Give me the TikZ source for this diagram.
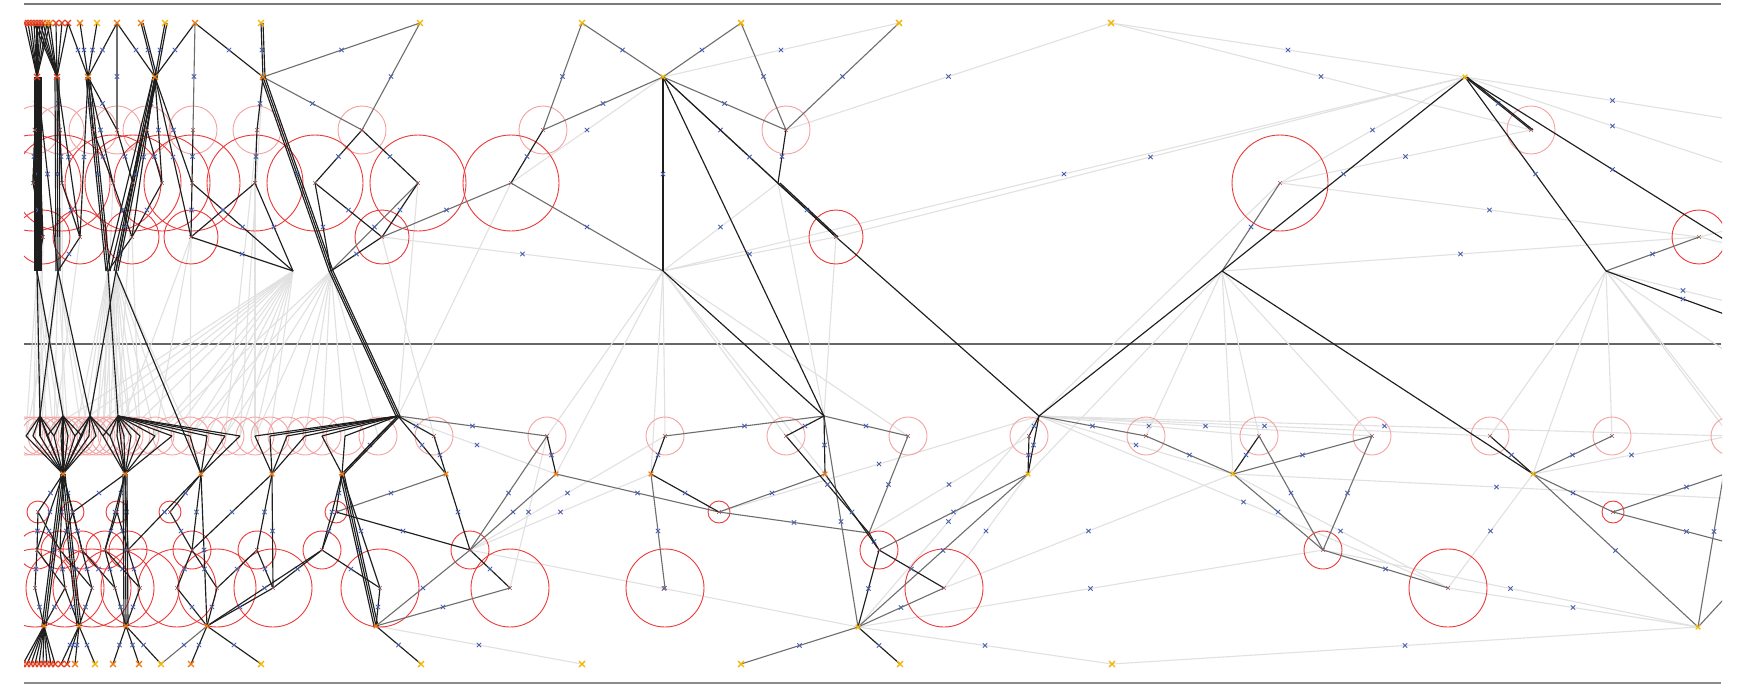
\documentclass[tikz,border=0pt]{standalone}
\usetikzlibrary{shapes.misc}
\definecolor{frm}{HTML}{7A7A7A}
\definecolor{dk}{HTML}{1E1E1E}
\definecolor{md}{HTML}{6E6E6E}
\definecolor{lt}{HTML}{E1E1E1}
\definecolor{pk}{HTML}{F4A2A2}
\definecolor{redc}{HTML}{EC3A3A}
\definecolor{yel}{HTML}{F5B400}
\definecolor{org}{HTML}{EE7A12}
\definecolor{rdn}{HTML}{E2401E}
\definecolor{mkb}{HTML}{4A62AE}
\definecolor{ctr}{HTML}{A05858}
\begin{document}
\begin{tikzpicture}[x=1pt,y=-1pt,
  blk/.style={draw=dk,line width=1.15pt},
  med/.style={draw=md,line width=1.1pt},
  lgt/.style={draw=lt,line width=1.1pt},
  pkc/.style={draw=pk,line width=0.9pt},
  rdc/.style={draw=redc,line width=0.9pt},
  mk/.style={draw=mkb,cross out,minimum size=3.6pt,inner sep=0pt,line width=0.8pt},
  nY/.style={draw=yel,cross out,minimum size=4.5pt,inner sep=0pt,line width=1.4pt},
  nO/.style={draw=org,cross out,minimum size=4.5pt,inner sep=0pt,line width=1.4pt},
  nR/.style={draw=rdn,cross out,minimum size=4.5pt,inner sep=0pt,line width=1.4pt},
  nSy/.style={draw=yel,cross out,minimum size=3.5pt,inner sep=0pt,line width=1.1pt},
  nSo/.style={draw=org,cross out,minimum size=3.5pt,inner sep=0pt,line width=1.1pt},
  nC/.style={draw=ctr,cross out,minimum size=3pt,inner sep=0pt,line width=0.6pt}]
\useasboundingbox (0,0) rectangle (1760,685);
\fill[white] (0,0) rectangle (1760,685);
% ---------- coordinates
\foreach \n/\x/\y in {
tc1/25/23, tc2/28/23, tc3/31/23, tc4/34/23, tc5/37/23, tc6/40/23, tc7/43/23, tc8/47/23, tc9/50/23, tc10/56/23, tc11/62/23, tc12/68/23,
tt1/80/23, tt2/97/23, tt3/117/23, tt4/141/23, tt5/165/23, tt6/195/23,
t1/261/23, t2/420/23, t3/582/23, t4/741/23, t5/899/23, t6/1111/23,
a01/37/77, a02/57/77, a03/88/77, a04/155/77, a1/263/77, a2/663/77, a3/1465/77,
pa/35/130, pb/60/130, pc/93/130, pd/117/130, pe/147/130, pf/193/130, p1/257/130, p2/362/130, p3/543/130, p4/786/130, p5/1531/130,
qa/33/183, qb/62/183, qc/113/183, qd/133/183, qe/162/183, qf/192/183, q1/255/183, q2/315/183, q3/418/183, q4/511/183, q5/1280/183, q6/778/183,
ra/43/237, rb/80/237, rc/132/237, r1/191/237, r2/382/237, r3/836/237, r4/1699/237,
v1/37/271, v2/58/271, v3/108/271, v4/116/271, u1/293/271, u2/331/271, u3/663/271, u4/1222/271, u5/1606/271,
e1/1760/262, e2/1760/124, e3/1760/175, e4/1760/327, e5/1760/310, e6/1760/222, e7/1760/252, e8/1760/468, e9/1760/374,
hz1/40/416, hz2/63/416, hz3/90/416, hz4/118/416, h1/398/416, h2/824/416, h3/1039/416,
c1/434/436, c2/547/436, c3/665/436, c4/786/436, c5/908/436, c6/1029/436, c7/1146/436, c8/1259/436, c9/1372/436, c10/1490/436, c11/1612/436, c12/1730/436,
zo1/63/474, zo2/125/474, zo3/201/474, zo4/272/474, zo5/342/474, o1/446/474, o2/556/474, o3/651/474, o4/825/474, o5/1028/474, o6/1233/474, o7/1533/474,
zs1/38/512, zs2/73/512, zs3/117/512, zs4/170/512, zs5/336/512, s1/719/512, s2/1613/512,
zm1/37/550, zm2/60/550, zm3/82/550, zm4/105/550, zm5/128/550, zm6/192/550, zm7/257/550, zm8/322/550, m1/470/550, m2/879/550, m3/1323/550, j1/869/533,
zb1/35/588, zb2/65/588, zb3/92/588, zb4/115/588, zb5/140/588, zb6/177/588, zb7/217/588, zb8/273/588, zb9/380/588, b1/510/588, b2/665/588, b3/944/588, b4/1448/588,
zn1/44/626, zn2/79/626, zn3/126/626, zn4/207/626, zn5/376/626, n1/858/627, n2/1698/627,
zy1/23/664, zy2/27/664, zy3/31/664, zy4/35/664, zy5/39/664, zy6/43/664, zy7/47/664, zy8/51/664, zy9/55/664, zy10/61/664, zy11/67/664, zy12/75/664, zy13/95/664, zy14/113/664, zy15/139/664, zy16/161/664, zy17/191/664, zy18/261/664,
y1/421/664, y2/582/664, y3/741/664, y4/900/664, y5/1112/664,
f1/1760/462, f2/1760/551, f3/1760/560, f4/1760/500}
{\coordinate (\n) at (\x,\y);}
\foreach \i/\x in {1/26,2/33,3/40,4/47,5/54,6/61,7/68,8/75,9/82,10/89,11/96,12/103,13/110,14/117,15/124,16/131,17/140,18/155,19/172,20/190,21/207,22/225,23/240,24/255,25/270,26/287,27/305,28/322,29/345,30/378}
{\coordinate (zc\i) at (\x,436);}
% ---------- frame lines
\draw[frm,line width=1.5pt] (24,4) -- (1721,4);
\draw[black!60,line width=1.3pt] (24,344) -- (1721,344);
\draw[black!45,line width=2pt] (24,683) -- (1721,683);
\begin{scope}
\clip (24,0) rectangle (1722,685);
% ---------- light edges (with mid marks)
\foreach \a/\b in {t5/a2, q4/a2, q6/u3, r3/u3, r3/a3, u3/a3, p4/t6, t6/a3, t6/p5, a3/e2, a3/e3, q5/a3, q5/p5, q5/r4, u4/r4, u5/e5, r4/e6, r4/e7, r2/u3,
 h1/o2, m1/o3, m1/c3, m1/n1, b1/c2, zn5/y2, h3/c8, h3/c9, h3/c10, h3/c12, h3/o6, n1/y5, y5/n2, n1/m3, b4/n2, m3/n2, o5/b3, o6/b3, o6/b4, b4/o7, o7/c12, c6/j1, o6/f4, h3/n1, h3/s1, h3/b4}
{\draw[lgt] (\a) -- node[mk]{} (\b);}
% light edges crossing the middle band (no marks)
\foreach \a/\b in {q6/h2, r3/h2, q4/h1, q3/h1, r2/c1, u3/c2, u3/o2, u3/o3, u3/c3, u3/c4, u3/o4, u3/c5,
 q5/h3, u4/o5, u4/c7, u4/o6, u4/c8, u4/c9, u5/c10, u5/o7, u5/c11, u5/c12, u5/e8, u5/e9,
 a1/zc22, a1/zc23, r1/zc18, rc/zc17, ra/hz1, qd/hz4, qb/hz2, r1/zc20, q1/zc24, rb/zc5, qc/zc12, ra/zc2, r1/zc14}
{\draw[lgt] (\a) -- (\b);}
\foreach \i in {1,2,3,4,5,6,7} \draw[lgt] (v1) -- (zc\i);
\foreach \i in {1,3,5,7,9,10} \draw[lgt] (v2) -- (zc\i);
\foreach \i in {8,9,10,11,12,13,14,15,16} \draw[lgt] (v3) -- (zc\i);
\foreach \i in {11,12,13,14,15,16,17,18,19,20} \draw[lgt] (v4) -- (zc\i);
\foreach \i in {3,6,9,12,15,18,19,20,21,22,23,24,25} \draw[lgt] (u1) -- (zc\i);
\foreach \i in {18,20,22,24,26,27,28,29,30} \draw[lgt] (u2) -- (zc\i);
% ---------- circles
\foreach \n in {pa,pb,pc,pd,pe,pf,p1,p2,p3,p4,p5} \draw[pkc] (\n) circle[radius=24pt];
\foreach \n in {qa,qb,qc,qd,qe,qf,q1,q2,q3,q4,q5} \draw[rdc] (\n) circle[radius=48pt];
\foreach \n in {ra,rb,rc,r1,r2,r3,r4} \draw[rdc] (\n) circle[radius=27pt];
\foreach \i in {1,...,30} \draw[pkc] (zc\i) circle[radius=19pt];
\foreach \n in {c1,c2,c3,c4,c5,c6,c7,c8,c9,c10,c11,c12} \draw[pkc] (\n) circle[radius=19pt];
\foreach \n in {zs1,zs2,zs3,zs4,zs5,s1,s2} \draw[rdc] (\n) circle[radius=11pt];
\foreach \n in {zm1,zm2,zm3,zm4,zm5,zm6,zm7,zm8,m1,m2,m3} \draw[rdc] (\n) circle[radius=19pt];
\foreach \n in {zb1,zb2,zb3,zb4,zb5,zb6,zb7,zb8,zb9,b1,b2,b3,b4} \draw[rdc] (\n) circle[radius=39pt];
% ---------- medium edges
\foreach \a/\b in {t3/a2, t4/a2, t3/p3, p3/a2, q4/u3, q4/r2, a2/p4, p4/t4, p4/t5, a2/q6, q5/u4, u5/r4, a1/t2, a1/p2, t2/p2, q3/u2, tt3/pd, tt6/pf,
 h1/c2, m1/o2, m1/zn5, b1/zn5, o1/zs5, c3/h2, o3/b2, o2/s1, s1/j1, s1/o4, h2/c5, c5/j1, h2/n1, n1/y3, n1/b3, n1/o5, o5/m2, h3/c7, c7/o6, o6/c9, o6/m3, c8/m3, c9/m3, m3/b4, o7/c11, o7/s2, s2/f1, s2/f2, o7/n2, n2/c12, n2/f3, zn4/zy16, m1/c2}
{\draw[med] (\a) -- node[mk]{} (\b);}
% ---------- black edges (with marks)
\foreach \a/\b in {p3/q4, a2/u3, p4/q6, a2/r3, q6/r3, a3/u4, a3/u5, a3/p5, a3/e1, u5/e4,
 h1/c1, c1/o1, h1/o1, c2/o2, o1/m1, m1/b1, zn5/y1, c3/o3, o3/s1, h2/c4, c4/j1, h2/o4, j1/m2, m2/b3, o4/m2, n1/y4, n1/m2, h3/c6, h3/o5, c6/o5, o6/c8, c10/o7, zs5/m1, h1/zo5,
 tc12/a03, tt1/a03, tt2/a03, tt3/a03, tt3/a04, tt4/a04, tt5/a04, tt6/a04, tt6/a1, t1/a1,
 a01/pa, a01/qa, a01/ra, a01/v1, a01/v2, a02/pb, a02/qb, a02/v2, a02/rb, a03/pc, a03/pd, a03/v3, a03/qc, a03/rb, a04/pe, a04/qd, a04/qe, a04/rc, a04/v4, a04/qf, a04/r1,
 pa/qa, qa/ra, ra/v1, pb/qb, qb/rb, rb/v2, pc/qc, qc/rc, rc/v3, pd/qd, qd/v4, pe/qe, qe/rc, pf/qf, qf/r1, r1/u1, qf/u1,
 a1/p1, p1/q1, q1/r1, q1/u1, p2/q2, q2/r2, q2/u2, p2/q3, q3/r2, r2/u2, a1/u2,
 zo1/zs1, zo1/zs2, zo1/zm1, zo1/zm2, zo1/zm3, zo1/zn1, zo1/zn2, zo2/zs3, zo2/zm4, zo2/zm5, zo2/zn3, zo2/zs2, zo3/zs4, zo3/zm6, zo3/zm5, zo3/zn4, zo4/zm7, zo4/zm6, zo4/zb8, zo5/zs5, zo5/zm8, zo5/zb9, zo5/zn5,
 zs1/zm1, zs1/zm2, zs2/zm2, zs2/zm3, zs3/zm4, zs3/zm5, zs4/zm6, zs5/zm8,
 zm1/zb1, zm1/zb2, zm2/zb2, zm2/zb3, zm3/zb3, zm3/zb4, zm4/zb4, zm4/zb5, zm5/zb5, zm6/zb6, zm6/zb7, zm7/zb7, zm7/zb8, zm8/zb9, zm8/zb8,
 zb1/zn1, zb2/zn1, zb2/zn2, zb3/zn2, zb4/zn3, zb5/zn3, zb6/zn4, zb7/zn4, zb8/zn4, zb9/zn5, zn4/zm8,
 zn2/zy10, zn2/zy11, zn2/zy12, zn2/zy13, zn3/zy14, zn3/zy15, zn3/zy16, zn4/zy17, zn4/zy18}
{\draw[blk] (\a) -- node[mk]{} (\b);}
% black edges crossing the middle band
\foreach \a/\b in {r3/h3, a2/h2, u3/h2, u4/h3, u4/o7, u2/h1, v1/hz2, v2/hz1, v3/hz4, v4/hz3, v4/zo3, v1/hz1, v2/hz3}
{\draw[blk] (\a) -- (\b);}
% black fans
\foreach \i in {1,...,9} \draw[blk] (tc\i) -- (a01);
\foreach \i in {4,...,12} \draw[blk] (tc\i) -- (a02);
\foreach \i in {1,...,5} \draw[blk] (hz1) -- (zc\i);
\foreach \i in {4,...,9} \draw[blk] (hz2) -- (zc\i);
\foreach \i in {8,...,13} \draw[blk] (hz3) -- (zc\i);
\foreach \i in {12,...,23} \draw[blk] (hz4) -- (zc\i);
\foreach \i in {24,...,30} \draw[blk] (h1) -- (zc\i);
\foreach \i in {1,...,11} \draw[blk] (zc\i) -- (zo1);
\foreach \i in {12,...,19} \draw[blk] (zc\i) -- (zo2);
\foreach \i in {20,...,23} \draw[blk] (zc\i) -- (zo3);
\foreach \i in {24,...,27} \draw[blk] (zc\i) -- (zo4);
\foreach \i in {28,...,30} \draw[blk] (zc\i) -- (zo5);
\foreach \i in {1,...,9} \draw[blk] (zn1) -- (zy\i);
\foreach \a/\b in {hz1/zo1, hz2/zo1, hz3/zo1, hz4/zo2}
{\draw[blk] (\a) -- (\b);}
% doubled strokes
\foreach \a/\b in {q6/r3, a3/p5, t1/a1, a1/u2, u2/h1, zo1/zn1, zo2/zn3, a01/v1, a02/v2, a04/v4, tt4/a04, tt5/a04, a03/v3, a04/v3, zo1/zn2, zo5/zn5, h1/zo5}
{\draw[blk] ([xshift=2pt]\a) -- ([xshift=2pt]\b);}
\foreach \a/\b in {a1/u2, u2/h1, a01/v1, a02/v2, a03/v3, a04/v3, a04/v4, zo1/zn1, zo2/zn3, zo1/zn2, zo5/zn5}
{\draw[blk] ([xshift=-2pt]\a) -- ([xshift=-2pt]\b);}
\foreach \a/\b in {a01/v1, a01/qa}
{\draw[blk] ([xshift=4pt]\a) -- ([xshift=4pt]\b);}
% ---------- node marks
\foreach \n in {tc1,tc2,tc3,tc4,tc5,tc6,tc7,tc10,tc11,tc12,a01,a02,zy1,zy2,zy3,zy4,zy5,zy6,zy7,zy8,zy9,zy10,zy11} \node[nR] at (\n) {};
\foreach \n in {tc8,tc9,tt1,tt3,tt4,tt6,a03,a04,a1,zy12,zy14,zy15,zy17} \node[nO] at (\n) {};
\foreach \n in {tt2,tt5,t1,t2,t3,t4,t5,t6,zy13,zy16,zy18,y1,y2,y3,y4,y5} \node[nY] at (\n) {};
\foreach \n in {a2,a3,n1,n2,o5,o6,o7} \node[nSy] at (\n) {};
\foreach \n in {zo1,zo2,zo3,zo4,zo5,o1,o2,o3,o4,zn1,zn2,zn3,zn4,zn5} \node[nSo] at (\n) {};
\foreach \n in {pa,pb,pc,pd,pe,pf,p1,p2,p3,p4,p5,qa,qb,qc,qd,qe,qf,q1,q2,q3,q4,q5,ra,rb,rc,r1,r2,r3,r4,c1,c2,c3,c4,c5,c6,c7,c8,c9,c10,c11,c12,zs1,zs2,zs3,zs4,zs5,s1,s2,zm1,zm2,zm3,zm4,zm5,zm6,zm7,zm8,m1,m2,m3,zb1,zb2,zb3,zb4,zb5,zb6,zb7,zb8,zb9,b1,b2,b3,b4} \node[nC] at (\n) {};
\end{scope}
\end{tikzpicture}
\end{document}
